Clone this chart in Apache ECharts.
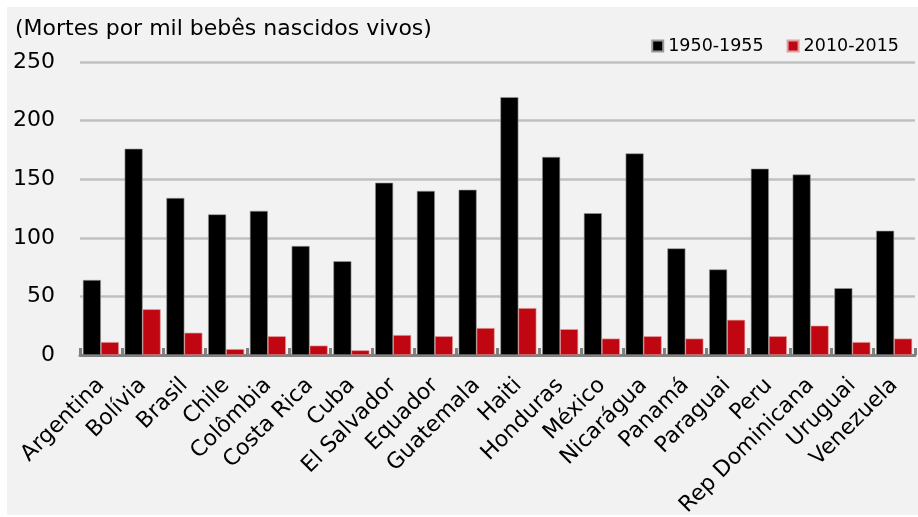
<!DOCTYPE html>
<html>
<head>
<meta charset="utf-8">
<script src="https://cdn.jsdelivr.net/npm/echarts@6/dist/echarts.min.js"></script>
<style>
html,body{margin:0;padding:0;background:#ffffff;width:918px;height:517px;overflow:hidden;}
#chart{position:absolute;left:7px;top:7px;width:911px;height:508px;background:#f2f2f2;}
</style>
</head>
<body>
<div id="chart"></div>
<script>
var categories = ["Argentina","Bolívia","Brasil","Chile","Colômbia","Costa Rica","Cuba","El Salvador","Equador","Guatemala","Haiti","Honduras","México","Nicarágua","Panamá","Paraguai","Peru","Rep Dominicana","Uruguai","Venezuela"];
var series1950 = [64,176,134,120,123,93,80,147,140,141,220,169,121,172,91,73,159,154,57,106];
var series2010 = [11,39,19,5,16,8,4,17,16,23,40,22,14,16,14,30,16,25,11,14];
var seriesNames = ["1950-1955","2010-2015"];
var yTicks = [0,50,100,150,200,250];
var yTitle = "(Mortes por mil bebês nascidos vivos)";

var chart = echarts.init(document.getElementById('chart'), null, {renderer:'canvas'});
var font = '"DejaVu Sans", "Liberation Sans", Arial, sans-serif';
chart.setOption({
  backgroundColor: '#f2f2f2',
  animation: false,
  textStyle: {fontFamily: font, color: '#000'},
  title: {
    text: yTitle, left: 3, top: 6,
    textStyle: {fontFamily: font, fontSize: 22, fontWeight: 'normal', color: '#000'}
  },
  legend: {
    data: seriesNames, right: 14, top: 25, itemWidth: 11, itemHeight: 11, itemGap: 23,
    icon: 'rect',
    textStyle: {fontFamily: font, fontSize: 17.5, color: '#000'}
  },
  grid: {left: 73, right: 3, top: 55, bottom: 160, containLabel: false, outerBoundsMode: 'none'},
  xAxis: {
    type: 'category', data: categories,
    axisLine: {show: true, lineStyle: {color: '#808080', width: 3}},
    axisTick: {show: true, inside: true, length: 7, lineStyle: {color: '#808080', width: 3}},
    axisLabel: {rotate: 45, fontSize: 22, color: '#000', margin: 27, fontFamily: font, interval: 0}
  },
  yAxis: {
    type: 'value', min: yTicks[0], max: yTicks[yTicks.length-1], interval: 50,
    axisLine: {show: false}, axisTick: {show: false},
    axisLabel: {fontSize: 22, color: '#000', margin: 25, fontFamily: font},
    splitLine: {lineStyle: {color: '#c0c0c0', width: 2.5}}
  },
  series: [
    {name: seriesNames[0], type: 'bar', data: series1950, barWidth: 18, barGap: '0%',
     itemStyle: {color: '#000000', borderColor: '#9a9a9a', borderWidth: 0.6}},
    {name: seriesNames[1], type: 'bar', data: series2010, barWidth: 18,
     itemStyle: {color: '#c00711', borderColor: '#e0a0a0', borderWidth: 0.6}}
  ]
});
</script>
</body>
</html>
